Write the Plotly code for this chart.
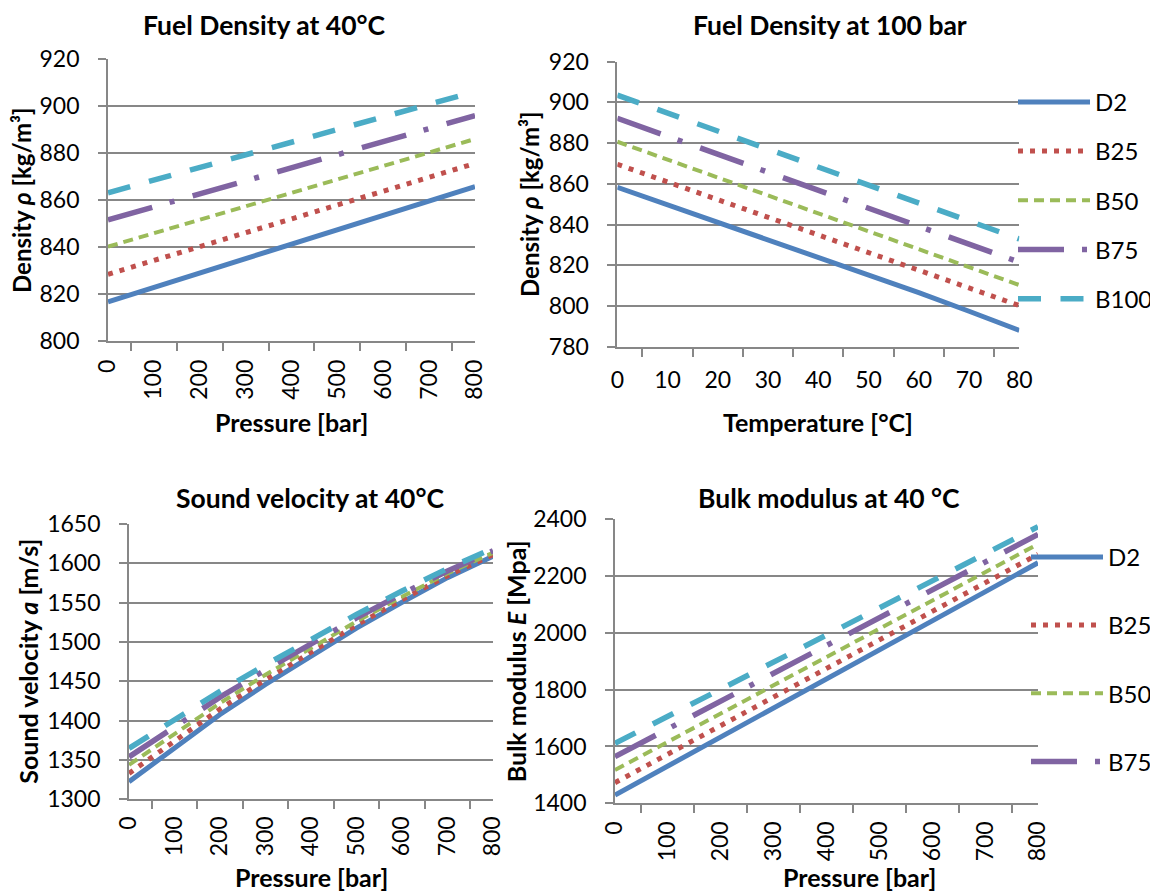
import plotly.graph_objects as go

# ---------------- data ----------------
pressure = ['0', '100', '200', '300', '400', '500', '600', '700', '800']
temperature = ['0', '10', '20', '30', '40', '50', '60', '70', '80']
series = ['D2', 'B25', 'B50', 'B75', 'B100']

# Fuel density at 40 °C vs pressure [kg/m3]
dens40_D2 = [816.6, 822.8, 829.0, 835.1, 841.1, 847.2, 853.3, 859.5, 865.7]
dens40_B25 = [828.3, 834.2, 840.1, 846.0, 851.9, 857.8, 863.8, 869.7, 875.6]
dens40_B50 = [840.1, 845.8, 851.6, 857.3, 863.0, 868.8, 874.5, 880.3, 886.0]
dens40_B75 = [851.5, 857.1, 862.6, 868.2, 873.8, 879.3, 884.9, 890.4, 896.0]
dens40_B100 = [863.1, 868.5, 873.9, 879.3, 884.7, 890.0, 895.4, 900.8, 906.2]

# Fuel density at 100 bar vs temperature [kg/m3]
dens100_D2 = [858.3, 849.7, 841.1, 832.6, 824.1, 815.4, 806.6, 797.4, 788.0]
dens100_B25 = [869.6, 860.9, 852.3, 843.6, 834.9, 826.2, 817.6, 808.9, 800.2]
dens100_B50 = [880.7, 871.9, 863.1, 854.3, 845.5, 836.7, 827.9, 819.1, 810.3]
dens100_B75 = [892.2, 883.4, 874.5, 865.7, 856.9, 848.0, 839.2, 830.3, 821.5]
dens100_B100 = [903.6, 894.8, 885.9, 877.1, 868.3, 859.4, 850.6, 841.7, 832.9]

# Sound velocity at 40 °C vs pressure [m/s]
sound_D2 = [1322.4, 1365.0, 1407.8, 1446.0, 1482.6, 1517.6, 1550.5, 1581.8, 1609.0]
sound_B25 = [1333.0, 1374.5, 1414.8, 1452.0, 1487.6, 1521.6, 1553.8, 1584.3, 1611.0]
sound_B50 = [1343.8, 1383.5, 1422.3, 1458.3, 1492.9, 1526.1, 1557.5, 1587.3, 1613.5]
sound_B75 = [1354.0, 1392.5, 1429.8, 1464.5, 1498.1, 1530.6, 1561.3, 1590.3, 1616.0]
sound_B100 = [1364.8, 1401.5, 1437.3, 1471.0, 1503.6, 1535.1, 1564.8, 1593.3, 1619.0]

# Bulk modulus at 40 °C vs pressure [MPa]
bulk_D2 = [1429, 1531, 1633, 1735, 1838, 1940, 2042, 2144, 2246]
bulk_B25 = [1472.5, 1572.9, 1673.3, 1773.7, 1874.2, 1974.6, 2075.0, 2175.4, 2275.8]
bulk_B50 = [1517.0, 1616.4, 1715.8, 1815.1, 1914.5, 2013.9, 2113.3, 2212.6, 2312.0]
bulk_B75 = [1564.0, 1661.8, 1759.5, 1857.3, 1955.0, 2052.8, 2150.5, 2248.3, 2346.0]
bulk_B100 = [1611.0, 1706.3, 1801.5, 1896.8, 1992.0, 2087.3, 2182.5, 2277.8, 2373.0]

# ---------------- styling ----------------
PAGE_OFF = 8               # default body margin of the html page
W, H = 1158 - PAGE_OFF, 891 - PAGE_OFF
FONT = 'Lato'
GRID = '#878787'
colors = ['#4F81BD', '#C0504D', '#9BBB59', '#8064A2', '#4BACC6']
dashes = ['solid', '5px,7px', '10px,6px', '46px,18px,5px,19px', '23px,19.5px']
widths = [5, 5, 4, 5.5, 5.5]
TICK = 23
GW = 1.7


def px(x):
    return (x - PAGE_OFF) / W


def py(y):
    return 1 - (y - PAGE_OFF) / H


fig = go.Figure()

charts = [
    (pressure, [dens40_D2, dens40_B25, dens40_B50, dens40_B75, dens40_B100], 'x', 'y', None),
    (temperature, [dens100_D2, dens100_B25, dens100_B50, dens100_B75, dens100_B100], 'x2', 'y2', 'legend'),
    (pressure, [sound_D2, sound_B25, sound_B50, sound_B75, sound_B100], 'x3', 'y3', None),
    (pressure, [bulk_D2, bulk_B25, bulk_B50, bulk_B75, bulk_B100], 'x4', 'y4', 'legend2'),
]

for cats, vals, xa, ya, leg in charts:
    for i, name in enumerate(series):
        show = leg is not None and not (leg == 'legend2' and name == 'B100')
        fig.add_trace(go.Scatter(
            x=cats, y=vals[i], name=name, mode='lines',
            xaxis=xa, yaxis=ya,
            line=dict(color=colors[i], width=widths[i], dash=dashes[i]),
            showlegend=show, legend=leg if leg else 'legend',
            legendgroup=(leg or 'n') + name,
            hoverinfo='skip',
        ))


def xaxis(domain, anchor, angle, standoff):
    return dict(domain=domain, anchor=anchor, type='category',
                tickson='boundaries', ticks='outside', ticklen=8,
                tickcolor=GRID, tickwidth=GW,
                showline=True, linecolor=GRID, linewidth=GW,
                showgrid=False, zeroline=False, tickangle=angle,
                tickfont=dict(family=FONT, size=TICK, color='black'),
                ticklabelstandoff=standoff, automargin=False, fixedrange=True)


def yaxis(domain, anchor, rng, dtick):
    return dict(domain=domain, anchor=anchor, range=rng, dtick=dtick, tick0=rng[0],
                showgrid=True, gridcolor=GRID, gridwidth=GW,
                showline=True, linecolor=GRID, linewidth=GW,
                ticks='outside', ticklen=8, tickcolor=GRID, tickwidth=GW,
                tickfont=dict(family=FONT, size=TICK, color='black'),
                zeroline=False, ticklabelstandoff=14, automargin=False, fixedrange=True)


# plot areas in page pixels (left, right, top, bottom)
areas = [(108, 475, 59.3, 340.7), (617.3, 1019.3, 61.7, 346.7),
         (129, 493, 524, 799.3), (615, 1038, 519, 803.3)]
dom = [([px(a[0]), px(a[1])], [py(a[3]), py(a[2])]) for a in areas]

fig.update_layout(
    width=W, height=H, autosize=False,
    margin=dict(l=0, r=0, t=0, b=0, pad=0, autoexpand=False),
    paper_bgcolor='white', plot_bgcolor='white',
    font=dict(family=FONT, color='black'),
    xaxis=xaxis(dom[0][0], 'y', -90, 8),
    yaxis=yaxis(dom[0][1], 'x', [800, 920], 20),
    xaxis2=xaxis(dom[1][0], 'y2', 0, 12),
    yaxis2=yaxis(dom[1][1], 'x2', [780, 920], 20),
    xaxis3=xaxis(dom[2][0], 'y3', -90, 6),
    yaxis3=yaxis(dom[2][1], 'x3', [1300, 1650], 50),
    xaxis4=xaxis(dom[3][0], 'y4', -90, 7),
    yaxis4=yaxis(dom[3][1], 'x4', [1400, 2400], 200),
    legend=dict(x=px(1013), y=py(200.3), xanchor='left', yanchor='middle',
                font=dict(family=FONT, size=24, color='black'),
                itemwidth=72, tracegroupgap=15, traceorder='grouped',
                bgcolor='rgba(0,0,0,0)'),
    legend2=dict(x=px(1026), y=py(659.3), xanchor='left', yanchor='middle',
                 font=dict(family=FONT, size=24, color='black'),
                 itemwidth=72, tracegroupgap=34, traceorder='grouped',
                 bgcolor='rgba(0,0,0,0)'),
)

ann = []


def text(x, y, s, angle=0, size=25):
    ann.append(dict(x=px(x), y=py(y), xref='paper', yref='paper', text=s,
                    showarrow=False, textangle=angle, xanchor='center', yanchor='middle',
                    font=dict(family=FONT, size=size, color='black')))


# chart titles
text(264, 25, '<b>Fuel Density at 40°C</b>', 0, 26.5)
text(830, 25, '<b>Fuel Density at 100 bar</b>', 0, 26.5)
text(310, 498, '<b>Sound velocity at 40°C</b>', 0, 26.5)
text(829, 498, '<b>Bulk modulus at 40 °C</b>', 0, 26.5)
# y-axis titles
text(21, 200, '<b>Density <i>ρ</i> [kg/m³]</b>', -90, 24)
text(530, 204, '<b>Density <i>ρ</i> [kg/m³]</b>', -90, 24)
text(28, 661.7, '<b>Sound velocity <i>a</i> [m/s]</b>', -90, 25)
text(515.5, 661.7, '<b>Bulk modulus <i>E</i> [Mpa]</b>', -90, 25)
# x-axis titles
text(291.7, 422, '<b>Pressure [bar]</b>')
text(817.7, 421.7, '<b>Temperature [°C]</b>')
text(311.7, 876.7, '<b>Pressure [bar]</b>')
text(859, 876.7, '<b>Pressure [bar]</b>')

fig.update_layout(annotations=ann)

fig.write_html('out.html')
